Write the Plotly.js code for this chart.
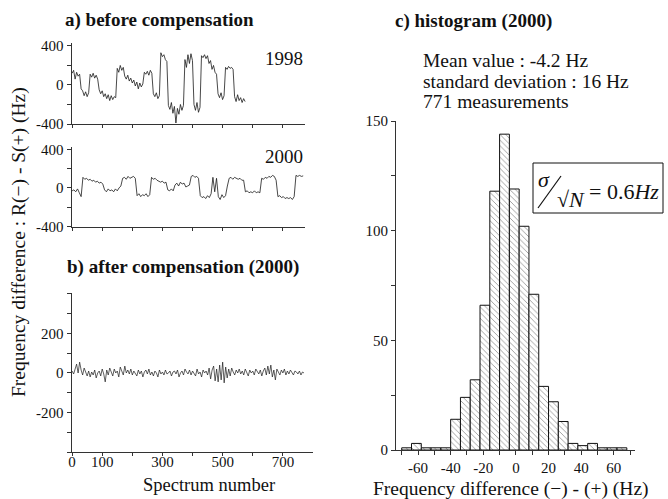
<!DOCTYPE html>
<html><head><meta charset="utf-8">
<script src="https://cdn.plot.ly/plotly-3.0.1.min.js"></script>
<style>html,body{margin:0;padding:0;background:#fff}#chart{width:668px;height:499px}</style>
</head><body><div id="chart"></div>
<script>
// ---- data ----
const step1998 = 5;   // spectrum-number spacing of the sampled 1998 points
const values1998 = [
  120,150,60,130,90,110,-40,-60,-110,-70,
  -120,-80,110,80,120,70,100,60,-50,-90,
  -60,-120,-90,-140,-100,-160,-110,-150,-120,-130,
  170,130,200,150,180,90,60,100,40,70,
  20,50,-10,30,-40,20,-20,10,130,110,
  140,100,150,120,-90,-120,-80,-140,-110,330,
  290,310,260,240,-210,-250,-180,-290,-220,-390,
  -240,-300,-200,-260,-210,260,180,310,220,320,
  250,-200,-260,-180,-280,-230,300,280,310,270,
  300,220,250,160,200,130,110,-90,-130,-80,
  -150,-110,180,160,190,170,180,160,-120,-170,
  -100,-160,-130,-180,-140,-170
];
const step2000 = 6;
const values2000 = [
  -30,-20,-40,-10,-50,-90,110,90,100,80,
  90,70,80,60,70,50,60,40,-20,-40,
  -10,-30,-20,-40,-10,-30,0,20,100,110,
  90,120,100,110,120,100,-80,-60,-90,-70,
  -80,-60,-90,-70,110,90,100,80,70,60,
  70,50,60,-20,-30,-10,-30,30,50,20,
  60,40,50,10,20,30,120,130,110,120,
  100,-80,-100,-90,-110,-80,-100,-60,110,-40,
  100,-90,-120,-70,-100,-80,20,100,110,90,
  110,100,90,100,80,80,-40,-30,-50,-40,
  -50,-30,-50,-40,-50,100,90,110,100,120,
  110,130,120,80,-90,-80,-100,-90,-110,-100,
  -110,-100,-120,-90,130,120,130,120,125
];
const stepComp = 5;
const valuesComp = [
  10,-5,20,45,0,55,15,-10,25,5,
  -15,10,-20,5,-10,15,-25,0,10,-15,
  20,-5,-45,15,-10,25,5,-15,20,0,
  10,-20,30,5,-10,35,0,15,-5,20,
  -10,10,0,-15,15,-5,10,-20,5,15,
  -5,20,-10,5,-15,10,0,-20,15,-5,
  5,-10,15,-5,0,10,-15,5,10,-5,
  15,-20,0,10,-10,20,5,-5,15,-10,
  10,0,-15,20,-5,5,-20,15,0,10,
  -10,25,-30,15,35,-40,20,-45,40,-35,
  55,-50,30,-25,20,-15,25,5,-10,15,
  0,20,-5,10,-10,20,5,-15,15,0,
  10,-10,20,5,-5,15,-15,10,25,-10,
  35,-5,40,-20,15,-35,20,5,-10,15,
  0,20,-10,10,-5,15,0,-10,10,5,
  -5,10,-10,5,0
];
const binCenters = [-67,-61,-55,-49,-43,-37,-31,-25,-19,-13,-7,-1,5,11,17,23,29,35,41,47,53,59,65];
const binCounts  = [1,3,1,1,1,14,24,32,66,118,144,119,102,71,29,22,13,3,2,3,1,1,1];
const binWidth = 6;
const specTickVals = [0,100,200,300,400,500,600,700];
const specTickText = ['0','100','','300','','500','','700'];
const histTickVals = [-70,-60,-50,-40,-30,-20,-10,0,10,20,30,40,50,60,70];
const histTickText = ['','-60','','-40','','-20','','0','','20','','40','','60',''];

// ---- layout helpers ----
const W = 668, H = 499;
const X = px => px / W;
const Y = py => 1 - py / H;
const serif = 'Liberation Serif, Times New Roman, serif';
const idx = (arr, step) => arr.map((_, i) => i * step);

const lineStyle = {color: '#1a1a1a', width: 0.8};
const traces = [
  {x: idx(values1998, step1998), y: values1998, xaxis: 'x', yaxis: 'y', mode: 'lines', line: lineStyle, hoverinfo: 'skip'},
  {x: idx(values2000, step2000), y: values2000, xaxis: 'x2', yaxis: 'y2', mode: 'lines', line: lineStyle, hoverinfo: 'skip'},
  {x: idx(valuesComp, stepComp), y: valuesComp, xaxis: 'x3', yaxis: 'y3', mode: 'lines', line: {color: '#1a1a1a', width: 0.7}, hoverinfo: 'skip'},
  {type: 'bar', x: binCenters, y: binCounts, width: binCenters.map(() => binWidth), xaxis: 'x4', yaxis: 'y4',
   marker: {color: 'white', line: {color: '#111', width: 1},
            pattern: {shape: '\\', fgcolor: '#666', bgcolor: 'white', size: 4, solidity: 0.15}},
   hoverinfo: 'skip'}
];

const axBase = {showline: true, linecolor: '#333', linewidth: 1, ticks: 'outside', ticklen: 4, tickcolor: '#333',
  showgrid: false, zeroline: false, tickfont: {family: serif, size: 15, color: '#111'}, fixedrange: true};

const layout = {
  width: W, height: H, margin: {l: 0, r: 0, t: 0, b: 0},
  paper_bgcolor: 'white', plot_bgcolor: 'rgba(0,0,0,0)', showlegend: false, bargap: 0,
  xaxis:  Object.assign({}, axBase, {domain: [X(71.5), X(305)], range: [-2, 774], anchor: 'y', tickvals: specTickVals, showticklabels: false, ticklen: 3}),
  yaxis:  Object.assign({}, axBase, {domain: [Y(124), Y(43)], range: [-400, 430], anchor: 'x', tickvals: [-400,-200,0,200,400], ticktext: ['-400','','0','','400']}),
  xaxis2: Object.assign({}, axBase, {domain: [X(71.5), X(305)], range: [-2, 774], anchor: 'y2', tickvals: specTickVals, showticklabels: false, ticklen: 3}),
  yaxis2: Object.assign({}, axBase, {domain: [Y(226.5), Y(146.5)], range: [-400, 430], anchor: 'x2', tickvals: [-400,-200,0,200,400], ticktext: ['-400','','0','','400']}),
  xaxis3: Object.assign({}, axBase, {domain: [X(71.5), X(313)], range: [-2, 800], anchor: 'y3', tickvals: specTickVals, ticktext: specTickText, ticklen: 3, ticklabelstandoff: -7}),
  yaxis3: Object.assign({}, axBase, {domain: [Y(452), Y(293)], range: [-400, 405], anchor: 'x3', tickvals: [-400,-300,-200,-100,0,100,200,300,400], ticktext: ['','','-200','','0','','200','','']}),
  xaxis4: Object.assign({}, axBase, {domain: [X(396), X(635)], range: [-73.5, 73], anchor: 'y4', tickvals: histTickVals, ticktext: histTickText}),
  yaxis4: Object.assign({}, axBase, {domain: [Y(450), Y(121)], range: [0, 150], anchor: 'x4', tickvals: [0,25,50,75,100,125,150], ticktext: ['0','','50','','100','','150']}),
  shapes: [
    {type: 'rect', xref: 'paper', yref: 'paper', x0: X(533), x1: X(663), y0: Y(213), y1: Y(163), line: {color: '#111', width: 1}},
    {type: 'line', xref: 'paper', yref: 'paper', x0: X(538), x1: X(561), y0: Y(208), y1: Y(176), line: {color: '#111', width: 1.2}}
  ],
  annotations: []
};

function txt(text, x, y, size, opts) {
  layout.annotations.push(Object.assign({text: text, x: X(x), y: Y(y), xref: 'paper', yref: 'paper', showarrow: false,
    xanchor: 'center', yanchor: 'middle', font: {family: serif, size: size, color: '#111'}}, opts || {}));
}
txt('<b>a) before compensation</b>', 159, 20, 19);
txt('1998', 305, 58, 19, {xanchor: 'right'});
txt('2000', 305, 156, 19, {xanchor: 'right'});
txt('<b>b) after compensation (2000)</b>', 183, 267, 19);
txt('Spectrum number', 209, 485, 18.5);
txt('Frequency difference : R(\u2212) - S(+) (Hz)', 19, 242, 19.5, {textangle: -90});
txt('<b>c) histogram (2000)</b>', 473, 21, 19);
txt('Mean value : -4.2 Hz', 421, 60, 19.5, {xanchor: 'left'});
txt('standard deviation : 16 Hz', 421, 81, 19.5, {xanchor: 'left'});
txt('771 measurements', 421, 102, 19.5, {xanchor: 'left'});
txt('<i>\u03c3</i>', 544, 179, 22);
txt('\u221a<i>N</i>', 571, 200, 22);
txt('= 0.6<i>Hz</i>', 587, 191, 22, {xanchor: 'left'});
txt('Frequency difference (\u2212) - (+) (Hz)', 511, 489, 19.5);

Plotly.newPlot('chart', traces, layout, {displayModeBar: false, staticPlot: true});
</script>
</body></html>
